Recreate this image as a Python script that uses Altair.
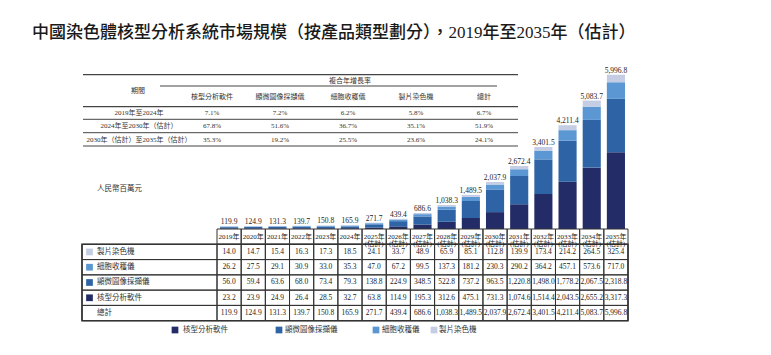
import altair as alt
import pandas as pd

FONT = "Liberation Serif, Noto Sans CJK TC"

# ---------------- data ----------------
years = list(range(2019, 2036))
first_forecast = 2025
products = ["核型分析軟件", "顯微圖像採擷儀", "細胞收穫儀", "製片染色機"]
colors = ["#232c66", "#2e64a6", "#5a97d3", "#c4cde4"]

software = [23.2, 23.9, 24.9, 26.4, 28.5, 32.7, 63.8, 114.9, 195.3, 312.6, 475.1,
            731.3, 1074.6, 1514.4, 2043.5, 2655.2, 3317.3]
imaging = [56.0, 59.4, 63.6, 68.0, 73.4, 79.3, 138.8, 224.9, 348.5, 522.8, 737.2,
           963.5, 1220.8, 1498.0, 1778.2, 2067.5, 2318.8]
harvester = [26.2, 27.5, 29.1, 30.9, 33.0, 35.3, 47.0, 67.2, 99.5, 137.3, 181.2,
             230.3, 290.2, 364.2, 457.1, 573.6, 717.0]
stainer = [14.0, 14.7, 15.4, 16.3, 17.3, 18.5, 24.1, 33.7, 48.9, 65.9, 85.1,
           112.8, 139.9, 173.4, 214.2, 264.5, 325.4]
totals = [119.9, 124.9, 131.3, 139.7, 150.8, 165.9, 271.7, 439.4, 686.6, 1038.3, 1489.5,
          2037.9, 2672.4, 3401.5, 4211.4, 5083.7, 5996.8]

cagr_periods = ["2019年至2024年", "2024年至2030年（估計）", "2030年（估計）至2035年（估計）"]
cagr_columns = products + ["總計"]
cagr_software = ["7.1%", "67.8%", "35.3%"]
cagr_imaging = ["7.2%", "51.6%", "19.2%"]
cagr_harvester = ["6.2%", "36.7%", "25.5%"]
cagr_stainer = ["5.8%", "35.1%", "23.6%"]
cagr_total = ["6.7%", "51.9%", "24.1%"]

title_text = "中國染色體核型分析系統市場規模（按產品類型劃分），2019年至2035年（估計）"
unit_text = "人民幣百萬元"

# ---------------- tables ----------------
ykeys = [str(y) for y in years]
ylabels = [f"{y}年" if y < first_forecast else f"{y}年\n(估計)" for y in years]
series = [software, imaging, harvester, stainer]

bars_df = pd.DataFrame([
    {"Y": k, "product": p, "value": s[i], "idx": j}
    for j, (p, s) in enumerate(zip(products, series))
    for i, k in enumerate(ykeys)
])
stack_top = [sum(s[i] for s in series) for i in range(len(years))]
tot_df = pd.DataFrame({"Y": ykeys, "top": stack_top,
                       "label": [f"{v:,.1f}" for v in totals]})

row_domain = ["年份", "製片染色機", "細胞收穫儀", "顯微圖像採擷儀", "核型分析軟件", "總計"]
row_series = {"製片染色機": stainer, "細胞收穫儀": harvester,
              "顯微圖像採擷儀": imaging, "核型分析軟件": software, "總計": totals}

cells_df = pd.DataFrame([{"Y": k, "Row": r} for r in row_domain for k in ykeys])
left_df = pd.DataFrame({"Row": row_domain[1:]})
yearlab_df = pd.DataFrame({"Y": ykeys, "Row": "年份", "label": ylabels})
vals_df = pd.DataFrame([
    {"Y": k, "Row": r, "text": f"{row_series[r][i]:,.1f}"}
    for r in row_domain[1:] for i, k in enumerate(ykeys)
])
sq_df = pd.DataFrame({"Row": row_domain[1:5], "product": row_domain[1:5]})

cagr_vals = [cagr_software, cagr_imaging, cagr_harvester, cagr_stainer, cagr_total]
cagr_df = pd.DataFrame([
    {"col": c, "period": p, "text": v[i]}
    for c, v in zip(cagr_columns, cagr_vals) for i, p in enumerate(cagr_periods)
])
cagr_head_df = pd.DataFrame({"col": cagr_columns})
cagr_period_df = pd.DataFrame({"period": cagr_periods})

# ---------------- scales ----------------
xs = alt.Scale(type="band", domain=ykeys, range=[217, 628], paddingInner=0, paddingOuter=0)
ys = alt.Scale(domain=[0, 7000], range=[229, 67.3], nice=False)
rows = alt.Scale(type="band", domain=row_domain, range=[229, 320.7], paddingInner=0, paddingOuter=0)
cx = alt.Scale(type="point", domain=cagr_columns, range=[212, 484], padding=0)
cy = alt.Scale(type="point", domain=cagr_periods, range=[112.7, 139.7], padding=0)

color_enc = alt.Color("product:N", scale=alt.Scale(domain=products, range=colors), legend=None)

X = lambda: alt.X("Y:N", scale=xs, axis=None)
Xc = lambda: alt.X("Y:N", scale=xs, axis=None, bandPosition=0.5)
Yr = lambda: alt.Y("Row:N", scale=rows, axis=None, bandPosition=0.5)

bars = alt.Chart(bars_df).mark_bar(width=alt.RelativeBandSize(0.75)).encode(
    x=X(), y=alt.Y("value:Q", stack="zero", scale=ys, axis=None),
    color=color_enc, order=alt.Order("idx:Q", sort="ascending"))

tot_labels = alt.Chart(tot_df).mark_text(baseline="alphabetic", dy=-2, fontSize=7.5,
                                         font=FONT, color="#222").encode(
    x=Xc(), y=alt.Y("top:Q", scale=ys, axis=None), text="label:N")

grid = alt.Chart(cells_df).mark_rect(filled=False, stroke="#333", strokeWidth=1).encode(
    x=X(), y=alt.Y("Row:N", scale=rows, axis=None))

left_cells = alt.Chart(left_df).mark_rect(filled=False, stroke="#333", strokeWidth=1).encode(
    x=alt.value(82), x2=alt.value(217), y=alt.Y("Row:N", scale=rows, axis=None))

outer = alt.Chart(pd.DataFrame({"k": [0]})).mark_rect(filled=False, stroke="#333", strokeWidth=1.6).encode(
    x=alt.value(82), x2=alt.value(628), y=alt.value(244.3), y2=alt.value(320.7))

year_labels = alt.Chart(yearlab_df).mark_text(fontSize=7, lineBreak="\n", lineHeight=7,
                                              font=FONT, color="#222", baseline="middle").encode(
    x=Xc(), y=Yr(), text="label:N")

values = alt.Chart(vals_df).mark_text(fontSize=7.5, font=FONT, color="#222",
                                      baseline="middle").encode(
    x=Xc(), y=Yr(), text="text:N")

row_labels = alt.Chart(left_df).mark_text(fontSize=7.5, font=FONT, color="#333", align="left",
                                          baseline="middle").encode(
    x=alt.value(97), y=Yr(), text="Row:N")

squares = alt.Chart(sq_df).mark_square(size=45, opacity=1, strokeWidth=0).encode(
    x=alt.value(89.5), y=Yr(), color=color_enc)

# legend (laid out like the reference)
legend_x = [(175, 183), (279, 285), (376, 382), (434, 439)]
legend_layers = []
for p, (sx, tx) in zip(products, legend_x):
    d = pd.DataFrame({"product": [p]})
    legend_layers.append(alt.Chart(d).mark_square(size=45, opacity=1, strokeWidth=0).encode(
        x=alt.value(sx), y=alt.value(330), color=color_enc))
    legend_layers.append(alt.Chart(d).mark_text(fontSize=7.5, font=FONT, color="#333",
                                                align="left", baseline="middle").encode(
        x=alt.value(tx), y=alt.value(330), text="product:N"))

def rule(x1, x2, y, w=1):
    return alt.Chart(pd.DataFrame({"k": [0]})).mark_rule(color="#444", strokeWidth=w).encode(
        x=alt.value(x1), x2=alt.value(x2), y=alt.value(y))

cagr_rules = [rule(83, 518, 74.7, 1.2), rule(160, 497, 86), rule(83, 518, 106.7, 1.2),
              rule(83, 518, 119.3), rule(83, 518, 132.7), rule(83, 518, 146, 1.2)]

txt = dict(fontSize=7, font=FONT, color="#333", baseline="middle")
cagr_head_group = alt.Chart(pd.DataFrame({"t": ["複合年增長率"]})).mark_text(**txt).encode(
    x=alt.value(350), y=alt.value(80.5), text="t:N")
cagr_period_head = alt.Chart(pd.DataFrame({"t": ["期間"]})).mark_text(**txt).encode(
    x=alt.value(138), y=alt.value(90.5), text="t:N")
cagr_heads = alt.Chart(cagr_head_df).mark_text(**txt).encode(
    x=alt.X("col:N", scale=cx, axis=None), y=alt.value(97), text="col:N")
cagr_cells = alt.Chart(cagr_df).mark_text(**txt).encode(
    x=alt.X("col:N", scale=cx, axis=None), y=alt.Y("period:N", scale=cy, axis=None), text="text:N")
cagr_periods_txt = alt.Chart(cagr_period_df).mark_text(**txt).encode(
    x=alt.value(139), y=alt.Y("period:N", scale=cy, axis=None), text="period:N")

title = alt.Chart(pd.DataFrame({"t": [title_text]})).mark_text(
    fontSize=17, font=FONT, fontWeight=500, color="#1a1a1a", align="left", baseline="middle").encode(
    x=alt.value(32), y=alt.value(33), text="t:N")
unit = alt.Chart(pd.DataFrame({"t": [unit_text]})).mark_text(
    fontSize=7.5, font=FONT, color="#333", align="left", baseline="middle").encode(
    x=alt.value(97), y=alt.value(189), text="t:N")

chart = alt.layer(
    bars, tot_labels, grid, left_cells, outer, year_labels, values, row_labels, squares,
    *legend_layers,
    *cagr_rules, cagr_head_group, cagr_period_head, cagr_heads, cagr_cells, cagr_periods_txt,
    title, unit,
).resolve_scale(x="independent", y="independent").properties(
    width=771, height=355, autosize=alt.AutoSizeParams(type="none"), padding=0,
    background="white",
).configure_view(stroke=None)

chart.save("out.html", embed_options={"renderer": "svg", "actions": False})
